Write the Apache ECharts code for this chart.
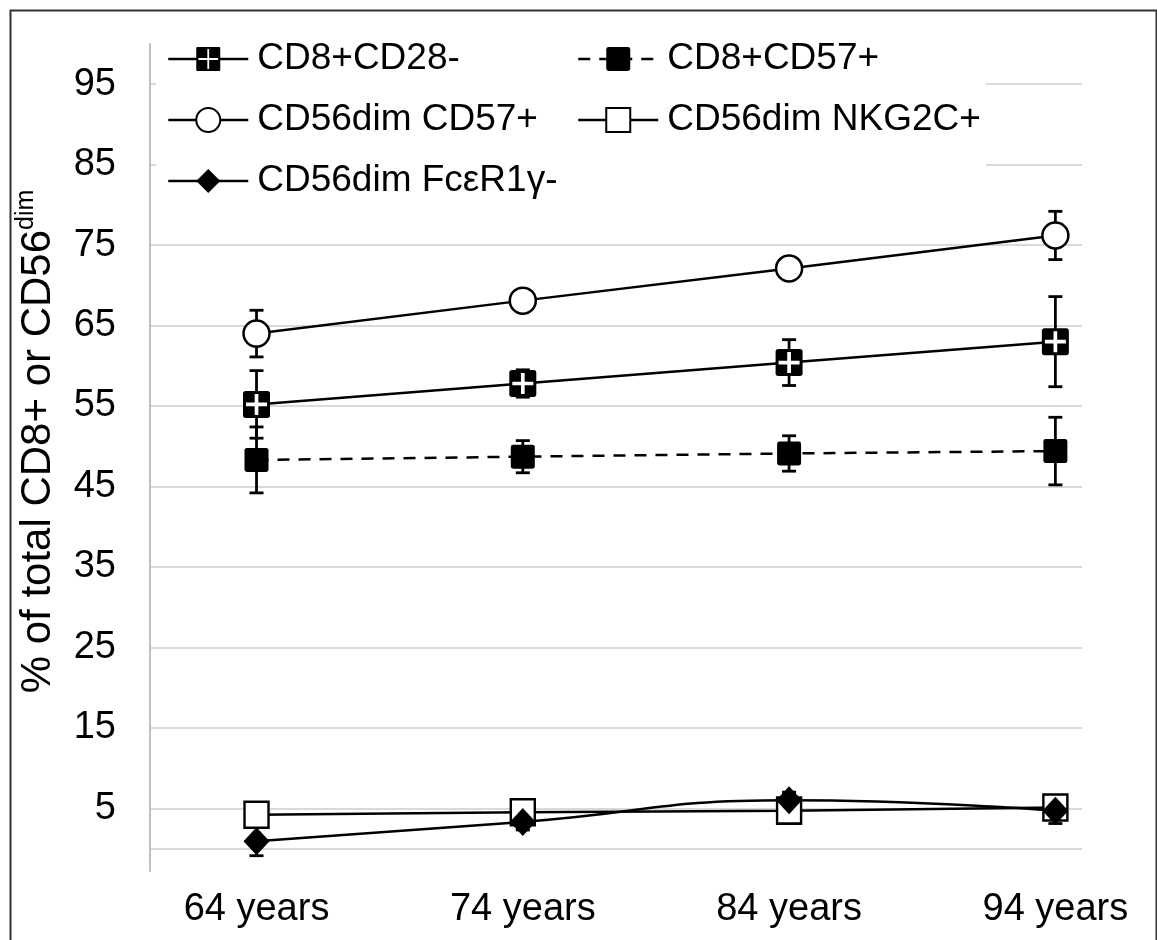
<!DOCTYPE html>
<html>
<head>
<meta charset="utf-8">
<script src="https://cdn.jsdelivr.net/npm/echarts@6/dist/echarts.min.js"></script>
<style>html,body{margin:0;padding:0;background:#fff;}#c{width:1157px;height:940px;}</style>
</head>
<body>
<div id="c"></div>
<script>
const ages = [64, 74, 84, 94];
const xLabels = ['64 years', '74 years', '84 years', '94 years'];
const yTicks = [5, 15, 25, 35, 45, 55, 65, 75, 85, 95];
const yGrid = [0, 5, 15, 25, 35, 45, 55, 65, 75, 85, 95];

const cd28neg = [55.2, 57.8, 60.4, 63.0];
const cd28negErr = [4.2, 1.7, 2.85, 5.6];
const cd8cd57 = [48.3, 48.7, 49.1, 49.4];
const cd8cd57Err = [4.1, 2.0, 2.2, 4.2];
const nkCd57 = [64.0, 68.1, 72.1, 76.2];
const nkCd57Err = [2.9, 1.0, 1.0, 3.0];
const nkg2c = [4.2, 4.5, 4.7, 5.1];
const nkg2cErr = [0.7, 0.7, 0.7, 0.7];
const fcer = [0.9, 3.3, 6.0, 4.7];
const fcerErr = [1.8, 1.0, 1.0, 1.6];

const FONT = 'Liberation Sans, Arial, sans-serif';
// slightly rounded square
const softSquare = 'path://M1 0 H9 Q10 0 10 1 V9 Q10 10 9 10 H1 Q0 10 0 9 V1 Q0 0 1 0 Z';
// white plus drawn on top of the square
const plusShape = 'path://M3.3 0 H4.7 V3.3 H8 V4.7 H4.7 V8 H3.3 V4.7 H0 V3.3 H3.3 Z';
// legend icon: line – square with plus hole – line (80 x 30 box)
const crossLegendIcon = 'path://M0 13.75 H29 V16.25 H0 Z M51 13.75 H80 V16.25 H51 Z ' +
  'M29 3 H51 Q52 3 52 4 V26 Q52 27 51 27 H29 Q28 27 28 26 V4 Q28 3 29 3 Z ' +
  'M39.1 5 V13.9 H30.2 V16.1 H39.1 V25 H40.9 V16.1 H49.8 V13.9 H40.9 V5 Z';

function pts(vals) { return ages.map((a, i) => [a, vals[i]]); }
function errPts(vals, errs) { return ages.map((a, i) => [a, vals[i], errs[i]]); }

function errRender(params, api) {
  const x = api.value(0), y = api.value(1), e = api.value(2);
  const t = api.coord([x, y + e]);
  const b = api.coord([x, y - e]);
  const hw = 7;
  const st = { stroke: '#000', lineWidth: 2.8 };
  return {
    type: 'group',
    children: [
      { type: 'line', shape: { x1: t[0], y1: t[1], x2: b[0], y2: b[1] }, style: st },
      { type: 'line', shape: { x1: t[0] - hw, y1: t[1], x2: t[0] + hw, y2: t[1] }, style: st },
      { type: 'line', shape: { x1: b[0] - hw, y1: b[1], x2: b[0] + hw, y2: b[1] }, style: st }
    ]
  };
}

function errSeries(vals, errs) {
  return {
    type: 'custom', renderItem: errRender, data: errPts(vals, errs), z: 1,
    encode: { x: 0, y: 1 }, silent: true
  };
}

function lineSeries(name, vals, symbol, size, fill, border, dashed, smooth) {
  return {
    name: name, type: 'line', data: pts(vals), z: 3,
    symbol: symbol, symbolSize: size, showSymbol: true, smooth: smooth || false,
    lineStyle: { color: '#000', width: 2.5, type: dashed ? [12, 9] : 'solid' },
    itemStyle: { color: fill, borderColor: '#000', borderWidth: border ? 2.5 : 0, opacity: 1 },
    emphasis: { disabled: true }, silent: true
  };
}

const legendText = { fontSize: 37, fontFamily: FONT, color: '#000', lineHeight: 38, padding: [0, 0, 0, 4] };

const chart = echarts.init(document.getElementById('c'), null, { renderer: 'canvas' });
chart.setOption({
  animation: false,
  backgroundColor: '#fff',
  textStyle: { fontFamily: FONT, color: '#000' },
  graphic: [{
    type: 'rect', left: 8, top: 8, z: 0,
    shape: { width: 1146, height: 945 },
    style: { fill: 'none', stroke: '#333', lineWidth: 2 }, silent: true
  }, {
    type: 'rect', left: 156, top: 30, z: 1,
    shape: { width: 830, height: 172 },
    style: { fill: '#fff' }, silent: true
  }],
  grid: { left: 150, right: 75, top: 44, bottom: 69 },
  legend: [{
    left: 162, top: 35, orient: 'vertical', itemWidth: 80, itemHeight: 30, itemGap: 23,
    lineStyle: { width: 2.5 },
    data: [{ name: 'CD8+CD28-', icon: crossLegendIcon }, 'CD56dim CD57+', 'CD56dim FcεR1γ-'],
    textStyle: legendText, selectedMode: false
  }, {
    left: 572, top: 35, orient: 'vertical', itemWidth: 80, itemHeight: 30, itemGap: 23,
    lineStyle: { width: 2.5 },
    data: ['CD8+CD57+', 'CD56dim NKG2C+'],
    textStyle: legendText, selectedMode: false
  }],
  xAxis: {
    type: 'value', min: 60, max: 95,
    axisLine: { show: false }, axisTick: { show: false }, splitLine: { show: false },
    axisLabel: {
      customValues: ages, margin: 20, fontSize: 38, fontFamily: FONT, color: '#000',
      formatter: function (v) { const i = ages.indexOf(v); return i >= 0 ? xLabels[i] : ''; }
    }
  },
  yAxis: {
    type: 'value', min: -2.8, max: 100,
    name: '{a|% of total CD8+ or CD56}{b|dim}',
    nameLocation: 'middle', nameGap: 88, nameRotate: 90,
    nameTextStyle: {
      rich: {
        a: { fontSize: 42, fontFamily: FONT, color: '#000', lineHeight: 48, padding: [0, 0, 0, 32] },
        b: { fontSize: 25, fontFamily: FONT, color: '#000', verticalAlign: 'top', lineHeight: 48 }
      }
    },
    axisLine: { show: true, lineStyle: { color: '#bfbfbf', width: 2 } },
    axisTick: { show: false, customValues: yGrid },
    axisLabel: { customValues: yTicks, margin: 34, fontSize: 38, fontFamily: FONT, color: '#000' },
    splitLine: { show: true, lineStyle: { color: '#d9d9d9', width: 2 } }
  },
  series: [
    errSeries(cd28neg, cd28negErr),
    errSeries(cd8cd57, cd8cd57Err),
    errSeries(nkCd57, nkCd57Err),
    errSeries(nkg2c, nkg2cErr),
    errSeries(fcer, fcerErr),
    lineSeries('CD8+CD28-', cd28neg, softSquare, 27, '#000', false, false),
    {
      type: 'scatter', data: pts(cd28neg), symbol: plusShape, symbolSize: 21, z: 4,
      itemStyle: { color: '#fff', opacity: 1 }, silent: true, emphasis: { disabled: true }
    },
    lineSeries('CD8+CD57+', cd8cd57, softSquare, 24, '#000', false, true),
    lineSeries('CD56dim CD57+', nkCd57, 'circle', 26, '#fff', true, false),
    lineSeries('CD56dim NKG2C+', nkg2c, 'rect', [24, 26], '#fff', true, false),
    lineSeries('CD56dim FcεR1γ-', fcer, 'diamond', [26, 28], '#000', false, false, 0.5)
  ]
});
</script>
</body>
</html>
